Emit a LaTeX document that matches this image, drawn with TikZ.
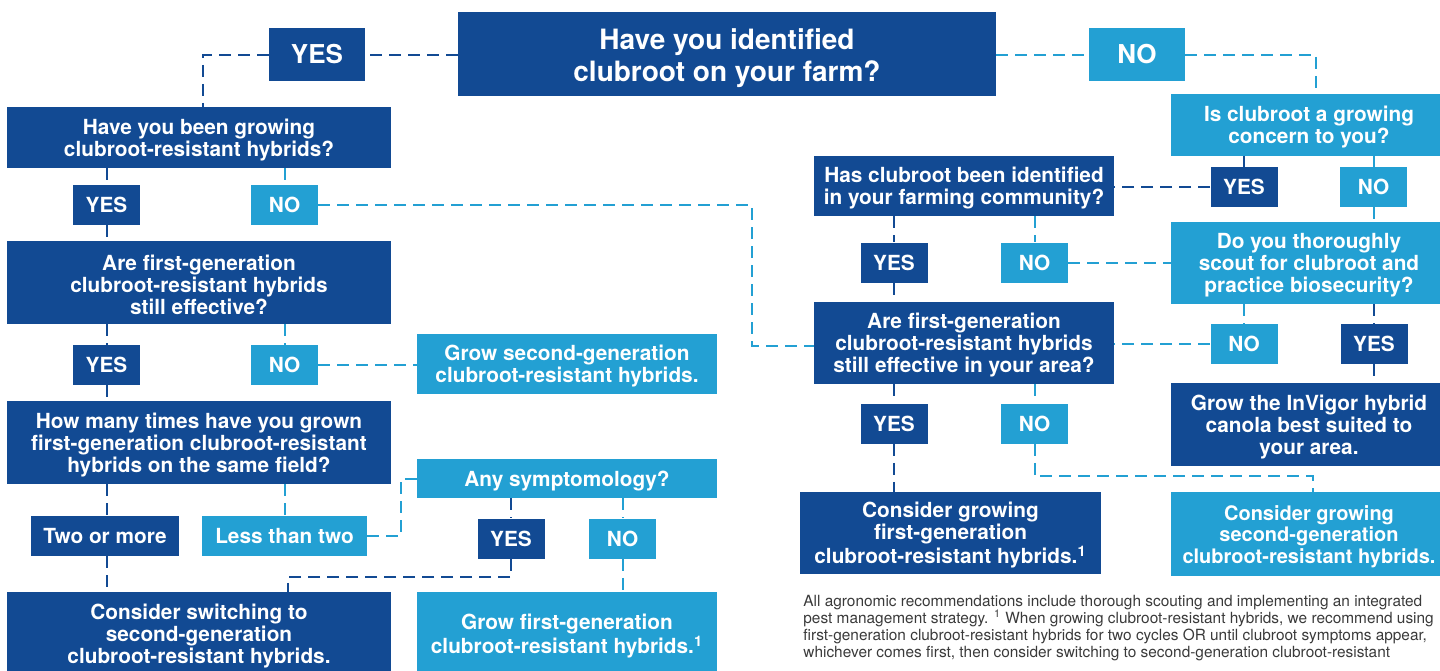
\documentclass[tikz,border=0pt]{standalone}
\usepackage{fontspec}
\setmainfont{TeX Gyre Heros}
\usepackage{tikz}
\definecolor{dkblue}{HTML}{124A93}
\definecolor{ltblue}{HTML}{23A0D3}
\definecolor{notegray}{HTML}{3A3A3A}
% invisible strut that sets the text a little lower in its box
\newcommand\liftline[1][10pt]{\rule{0pt}{#1}}

\begin{document}
\begin{tikzpicture}[x=0.5pt, y=-0.5pt,
    wh/.style 2 args={minimum width=#1*0.5pt, minimum height=#2*0.5pt},
    box/.style={text=white, inner sep=0pt, align=center, font=\bfseries\fontsize{10.4}{10.9}\selectfont},
    dkbox/.style={box, fill=dkblue},
    ltbox/.style={box, fill=ltblue},
    tag/.style={wh={67}{40}},
    bigtag/.style={wh={96}{53}, font=\bfseries\fontsize{13}{13}\selectfont},
    dkline/.style={dkblue, line width=1pt, dash pattern=on 6pt off 3.5pt},
    ltline/.style={ltblue, line width=1pt, dash pattern=on 6pt off 3.5pt}]
    \clip (0,0) rectangle (1440,670);

    % The first question
    \node (farm) at (727,54) [dkbox, wh={538}{84}, font=\bfseries\fontsize{14}{16}\selectfont] {\liftline[14.5pt]Have you identified\\clubroot on your farm?};
    \node (yes0) at (317,54.5) [dkbox, bigtag] {YES};
    \node (no0) at (1137,54.5) [ltbox, bigtag] {NO};

    % Left branch (clubroot found on the farm)
    \node (grown) at (199,137.5) [dkbox, wh={384}{61}] {\liftline Have you been growing\\clubroot-resistant hybrids?};
    \node (yes1) at (106.5,205) [dkbox, tag] {YES};
    \node (no1) at (284.5,205) [ltbox, tag] {NO};
    \node (effective) at (199,282.5) [dkbox, wh={384}{83}] {\liftline Are first-generation\\clubroot-resistant hybrids\\still effective?};
    \node (yes2) at (106.5,365) [dkbox, tag] {YES};
    \node (no2) at (284.5,365) [ltbox, tag] {NO};
    \node (grow2) at (567,364) [ltbox, wh={300}{60}] {\liftline Grow second-generation\\clubroot-resistant hybrids.};
    \node (times) at (199,442.5) [dkbox, wh={384}{83}] {\liftline How many times have you grown\\first-generation clubroot-resistant\\hybrids on the same field?};
    \node (twomore) at (105,536) [dkbox, wh={148}{40}] {Two or more};
    \node (lesstwo) at (284.5,536) [ltbox, wh={165}{40}] {Less than two};
    \node (symptom) at (567,478.5) [ltbox, wh={300}{39}] {\liftline Any symptomology?};
    \node (yes3) at (511,538.5) [dkbox, tag] {YES};
    \node (no3) at (622.5,538.5) [ltbox, tag] {NO};
    \node (switch) at (199,634) [dkbox, wh={384}{84}] {\liftline Consider switching to\\second-generation\\clubroot-resistant hybrids.};
    \node (grow1) at (567,634) [ltbox, wh={300}{84}] {\liftline Grow first-generation\\clubroot-resistant hybrids.\textsuperscript{1}};

    % Right branch (no clubroot on the farm)
    \node (concern) at (1309,125) [ltbox, wh={276}{62}] {\liftline Is clubroot a growing\\concern to you?};
    \node (yes4) at (1244,187) [dkbox, tag] {YES};
    \node (no4) at (1373.5,187) [ltbox, tag] {NO};
    \node (community) at (964,186) [dkbox, wh={300}{60}] {\liftline Has clubroot been identified\\in your farming community?};
    \node (yes5) at (894,262.5) [dkbox, tag] {YES};
    \node (no5) at (1034.5,262.5) [ltbox, tag] {NO};
    \node (scout) at (1309,263) [ltbox, wh={276}{82}] {\liftline Do you thoroughly\\scout for clubroot and\\practice biosecurity?};
    \node (area) at (964,343) [dkbox, wh={300}{82}] {\liftline Are first-generation\\clubroot-resistant hybrids\\still effective in your area?};
    \node (no6) at (1244,344) [ltbox, tag] {NO};
    \node (yes6) at (1374,344) [dkbox, tag] {YES};
    \node (invigor) at (1309,424.5) [dkbox, wh={276}{83}] {\liftline Grow the InVigor hybrid\\canola best suited to\\your area.};
    \node (yes7) at (894,423.5) [dkbox, tag] {YES};
    \node (no7) at (1034.5,423.5) [ltbox, tag] {NO};
    \node (consider1) at (950.5,533) [dkbox, wh={301}{82}] {\liftline Consider growing\\first-generation\\clubroot-resistant hybrids.\textsuperscript{1}};
    \node (consider2) at (1309,534) [ltbox, wh={276}{84}, font=\bfseries\fontsize{10}{10.9}\selectfont] {\liftline Consider growing\\second-generation\\clubroot-resistant hybrids.};

    % Footnote
    \node (note) at (803,595) [anchor=north west, inner sep=0pt, align=left, text=notegray, font=\fontsize{7.7}{8.5}\selectfont] {All agronomic recommendations include thorough scouting and implementing an integrated\\pest management strategy. \textsuperscript{1} When growing clubroot-resistant hybrids, we recommend using\\first-generation clubroot-resistant hybrids for two cycles OR until clubroot symptoms appear,\\whichever comes first, then consider switching to second-generation clubroot-resistant};

    % Bends of the elbow connectors
    \coordinate (bendE) at (203,54.5);
    \coordinate (bendF) at (1316,54.5);
    \coordinate (bendA) at (752,346);
    \coordinate (bendB) at (401,478.5);
    \coordinate (bendC) at (288,577);
    \coordinate (bendD) at (1313,476);

    % Connectors from the first question
    \draw[dkline] (farm.west |- yes0) -- (yes0.east);
    \draw[dkline] (yes0.west) -- (bendE) -- (bendE |- grown.north);
    \draw[ltline] (farm.east |- no0) -- (no0.west);
    \draw[ltline] (no0.east) -- (bendF) -- (bendF |- concern.north);

    % Left branch connectors
    \draw[dkline] (grown.south -| yes1) -- (yes1.north);
    \draw[ltline] (grown.south -| no1) -- (no1.north);
    \draw[dkline] (yes1.south) -- (yes1.south |- effective.north);
    \draw[ltline] (no1.east) -| (bendA) -- (bendA -| area.west);
    \draw[dkline] (effective.south -| yes2) -- (yes2.north);
    \draw[ltline] (effective.south -| no2) -- (no2.north);
    \draw[ltline] (no2.east) -- (grow2.west |- no2);
    \draw[dkline] (yes2.south) -- (yes2.south |- times.north);
    \draw[dkline] (times.south -| yes2) -- (yes2 |- twomore.north);
    \draw[ltline] (times.south -| lesstwo) -- (lesstwo.north);
    \draw[ltline] (lesstwo.east) -| (bendB) -- (symptom.west);
    \draw[dkline] (twomore.south -| yes2) -- (yes2 |- switch.north);
    \draw[dkline] (symptom.south -| yes3) -- (yes3.north);
    \draw[ltline] (symptom.south -| no3) -- (no3.north);
    \draw[dkline] (yes3.south) |- (bendC) -- (bendC |- switch.north);
    \draw[ltline] (no3.south) -- (no3.south |- grow1.north);

    % Right branch connectors
    \draw[dkline] (concern.south -| yes4) -- (yes4.north);
    \draw[ltline] (concern.south -| no4) -- (no4.north);
    \draw[dkline] (yes4.west) -- (community.east |- yes4);
    \draw[ltline] (no4.south) -- (no4.south |- scout.north);
    \draw[dkline] (community.south -| yes5) -- (yes5.north);
    \draw[ltline] (community.south -| no5) -- (no5.north);
    \draw[ltline] (no5.east) -- (scout.west |- no5);
    \draw[dkline] (yes5.south) -- (yes5.south |- area.north);
    \draw[ltline] (scout.south -| no6) -- (no6.north);
    \draw[dkline] (scout.south -| yes6) -- (yes6.north);
    \draw[ltline] (no6.west) -- (area.east |- no6);
    \draw[dkline] (yes6.south) -- (yes6.south |- invigor.north);
    \draw[dkline] (area.south -| yes7) -- (yes7.north);
    \draw[ltline] (area.south -| no7) -- (no7.north);
    \draw[dkline] (yes7.south) -- (yes7.south |- consider1.north);
    \draw[ltline] (no7.south) |- (bendD) -- (bendD |- consider2.north);
\end{tikzpicture}
\end{document}
